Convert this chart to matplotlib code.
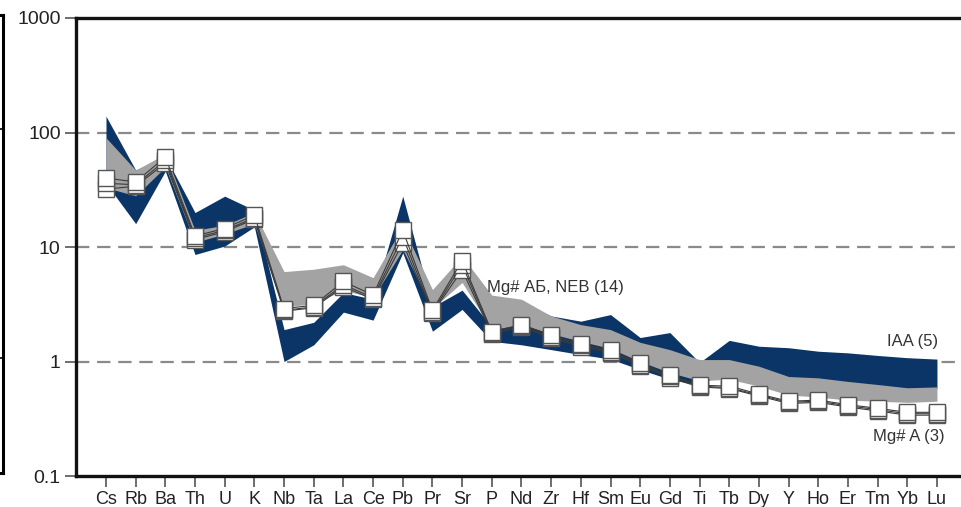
import matplotlib
matplotlib.use("Agg")
import matplotlib.pyplot as plt
import numpy as np

plt.rcParams['font.family'] = ['Liberation Sans', 'DejaVu Sans']

elements = ["Cs", "Rb", "Ba", "Th", "U", "K", "Nb", "Ta", "La", "Ce", "Pb", "Pr", "Sr",
            "P", "Nd", "Zr", "Hf", "Sm", "Eu", "Gd", "Ti", "Tb", "Dy", "Y", "Ho", "Er",
            "Tm", "Yb", "Lu"]

# IAA (5) envelope
iaa_upper = [139, 47, 62, 20, 27.8, 21, 1.9, 2.2, 4.0, 3.5, 27.8, 3.0, 4.2,
             2.0, 3.3, 2.5, 2.25, 2.57, 1.62, 1.79, 0.98, 1.53, 1.36, 1.32, 1.23, 1.19,
             1.13, 1.08, 1.05]
iaa_lower = [36, 16, 46, 8.6, 10.2, 15, 1.0, 1.4, 2.7, 2.3, 8.9, 1.84, 2.85,
             1.5, 1.4, 1.27, 1.15, 1.05, 0.85, 0.7, 0.62, 0.85, 0.85, 0.70, 0.68, 0.64,
             0.60, 0.57, 0.58]

# Mg# АБ, NEB (14) envelope
neb_upper = [90, 47, 65, 14, 15.5, 20, 6.1, 6.4, 7.0, 5.4, 15.2, 4.25, 8.3,
             3.8, 3.5, 2.5, 2.1, 1.9, 1.47, 1.27, 1.04, 1.04, 0.91, 0.74, 0.72, 0.67,
             0.63, 0.59, 0.60]
neb_lower = [33, 28, 50, 11, 13, 16, 3.0, 3.2, 4.2, 3.6, 9.5, 2.9, 4.9,
             1.9, 2.1, 1.75, 1.5, 1.3, 1.0, 0.8, 0.68, 0.70, 0.61, 0.51, 0.49, 0.46,
             0.45, 0.44, 0.45]

# Mg# A (3) samples
mga_1 = [40, 37, 61, 12.5, 14.5, 19, 2.9, 3.1, 5.0, 3.8, 14, 2.8, 7.6,
         1.82, 2.1, 1.7, 1.42, 1.25, 0.97, 0.76, 0.62, 0.61, 0.52, 0.45, 0.46, 0.42,
         0.39, 0.36, 0.36]
mga_2 = [36, 35, 57, 12, 14, 18, 2.8, 3.0, 4.7, 3.6, 12.3, 2.7, 7.0,
         1.78, 2.05, 1.65, 1.38, 1.22, 0.94, 0.74, 0.61, 0.59, 0.51, 0.44, 0.45, 0.41,
         0.38, 0.35, 0.35]
mga_3 = [32, 34, 54, 11.6, 13.6, 17.5, 2.75, 2.95, 4.5, 3.5, 10.8, 2.65, 6.3,
         1.74, 2.0, 1.6, 1.35, 1.19, 0.92, 0.72, 0.60, 0.58, 0.50, 0.43, 0.44, 0.40,
         0.37, 0.34, 0.34]

y_ticks = [0.1, 1, 10, 100, 1000]
y_ticklabels = ["0.1", "1", "10", "100", "1000"]

navy = "#0b3566"
grey = "#a3a3a3"

fig = plt.figure(figsize=(9.61, 5.07), dpi=100)
ax = fig.add_axes([0.0791, 0.0611, 0.9209, 0.9034])

x = np.arange(len(elements))

ax.fill_between(x, iaa_lower, iaa_upper, color=navy, lw=0, zorder=2)
ax.fill_between(x, neb_lower, neb_upper, color=grey, lw=0, zorder=3)

for series in (mga_3, mga_2, mga_1):
    ax.plot(x, series, color="#3a3a3a", lw=0.8, marker="s", markersize=11,
            markerfacecolor="white", markeredgecolor="#555555", markeredgewidth=1.0,
            zorder=4)

ax.set_yscale("log")
ax.set_ylim(0.1, 1000)
ax.set_xlim(-1.01, 28.81)

for v in (1, 10, 100):
    ax.axhline(v, color="#8a8a8a", lw=1.6, ls=(0, (6, 3.5)), zorder=1)

ax.set_yticks(y_ticks)
ax.set_yticklabels(y_ticklabels, fontsize=14, color="#222222")
ax.yaxis.set_minor_locator(matplotlib.ticker.NullLocator())
ax.set_xticks(x)
ax.set_xticklabels(elements, fontsize=13, color="#222222")
ax.tick_params(axis="y", length=8, width=1.2, color="#555555", pad=3)
ax.tick_params(axis="x", length=8, width=1.2, color="#555555", pad=3)

for side in ("left", "bottom", "top"):
    ax.spines[side].set_linewidth(2.4)
    ax.spines[side].set_color("#111111")
ax.spines["right"].set_visible(False)

ax.text(12.84, 4.43, "Mg# АБ, NEB (14)", fontsize=12, color="#333333",
        ha="left", va="center", zorder=5)
ax.text(28.03, 1.5, "IAA (5)", fontsize=12, color="#333333",
        ha="right", va="center", zorder=5)
ax.text(28.27, 0.22, "Mg# A (3)", fontsize=12, color="#333333",
        ha="right", va="center", zorder=5)

# edge of the neighbouring panel on the left
side_ax = fig.add_axes([-0.1, 0.0611 + 0.006, 0.1035, 0.9034])
side_ax.set_yscale("log")
side_ax.set_ylim(0.1, 1000)
side_ax.set_xticks([])
side_ax.yaxis.tick_right()
side_ax.set_yticks([1, 100])
side_ax.set_yticklabels([])
side_ax.yaxis.set_minor_locator(matplotlib.ticker.NullLocator())
side_ax.tick_params(axis="y", direction="in", length=4, width=1.2)
side_ax.spines["left"].set_visible(False)
for side in ("right", "top", "bottom"):
    side_ax.spines[side].set_linewidth(2.2)

fig.savefig("out.png", dpi=100)
